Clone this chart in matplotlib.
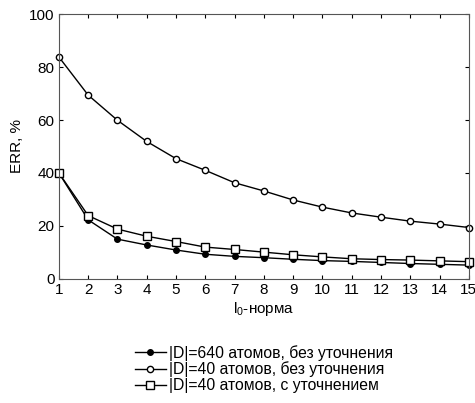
import numpy as np
import matplotlib
matplotlib.use('Agg')
import matplotlib.pyplot as plt

plt.rcParams['font.family'] = ['Liberation Sans', 'DejaVu Sans']
plt.rcParams['mathtext.fontset'] = 'custom'
plt.rcParams['mathtext.rm'] = 'Liberation Sans'

# l0-norm values
norm = np.arange(1, 16)
# |D|=640, no refinement
err_640 = [40, 22.3, 15.0, 12.8, 10.9, 9.3, 8.5, 8.0, 7.4, 6.9, 6.6, 6.2, 5.8, 5.5, 5.2]
# |D|=40, no refinement
err_40 = [83.8, 69.4, 59.9, 51.9, 45.4, 41.0, 36.3, 33.2, 29.8, 27.1, 24.9, 23.3, 21.8, 20.7, 19.4]
# |D|=40, with refinement
err_40r = [40, 23.9, 18.8, 16.1, 14.1, 12.0, 11.1, 10.1, 9.1, 8.3, 7.6, 7.3, 7.1, 6.8, 6.5]

labels = ['|D|=640 атомов, без уточнения',
          '|D|=40 атомов, без уточнения',
          '|D|=40 атомов, с уточнением']

fig = plt.figure(figsize=(4.75, 4.03), dpi=100)
ax = fig.add_axes([0.124, 0.308, 0.863, 0.657])

ax.plot(norm, err_640, '-o', color='black', mfc='black', ms=4, lw=1, label=labels[0], clip_on=False)
ax.plot(norm, err_40, '-o', color='black', mfc='white', ms=4.5, lw=1, label=labels[1], clip_on=False)
ax.plot(norm, err_40r, '-s', color='black', mfc='white', ms=5.5, lw=1, label=labels[2], clip_on=False)

ax.set_xlim(1, 15)
ax.set_ylim(0, 100)
ax.set_xticks(norm)
ax.set_yticks([0, 20, 40, 60, 80, 100])
ax.tick_params(direction='in', top=True, right=True, labelsize=11, length=3, pad=3)
for s in ax.spines.values():
    s.set_color('#555555')
    s.set_linewidth(0.8)

ax.set_xlabel('l$_0$-норма', fontsize=11, labelpad=2)
ax.set_ylabel('ERR, %', fontsize=11, labelpad=4)

fig.legend(loc='upper center', bbox_to_anchor=(0.556, 0.152), frameon=False,
           fontsize=11.3, handlelength=2.0, handletextpad=0.2, labelspacing=0.05,
           borderpad=0.2, borderaxespad=0)

fig.savefig('out.png', dpi=100)
